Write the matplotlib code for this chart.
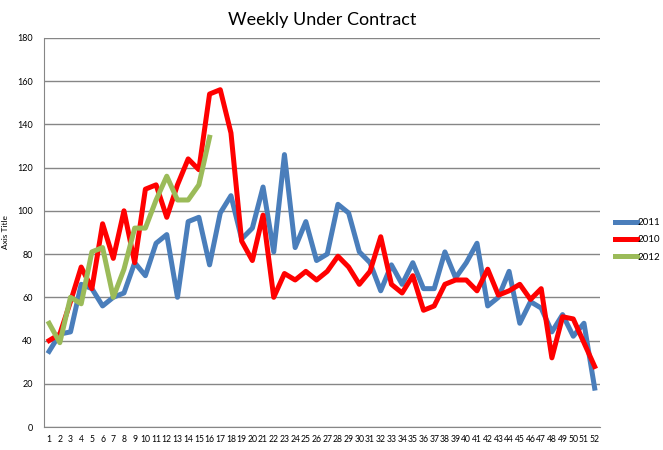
import matplotlib.pyplot as plt

weeks = list(range(1, 53))

sales_2011 = [35, 43, 44, 66, 64, 56, 60, 62, 76, 70, 85, 89, 60, 95, 97, 75, 99, 107,
              87, 92, 111, 81, 126, 83, 95, 77, 80, 103, 99, 81, 76, 63, 75, 66, 76, 64,
              64, 81, 69, 76, 85, 56, 60, 72, 48, 58, 55, 44, 52, 42, 48, 18]
sales_2010 = [40, 43, 58, 74, 64, 94, 78, 100, 76, 110, 112, 97, 112, 124, 119, 154, 156, 136,
              86, 77, 98, 60, 71, 68, 72, 68, 72, 79, 74, 66, 72, 88, 66, 62, 70, 54,
              56, 66, 68, 68, 63, 73, 61, 63, 66, 59, 64, 32, 51, 50, 39, 28]
sales_2012 = [48, 39, 60, 57, 81, 83, 60, 73, 92, 92, 105, 116, 105, 105, 112, 134]

plt.rcParams['font.family'] = ['Lato', 'DejaVu Sans']

fig = plt.figure(figsize=(6.63, 4.5), dpi=100)
ax = fig.add_axes([0.066, 0.051, 0.839, 0.865])

ax.plot(weeks, sales_2011, color='#4A7EBB', linewidth=3.6, label='2011')
ax.plot(weeks, sales_2010, color='#FF0000', linewidth=3.6, label='2010')
ax.plot(weeks[:len(sales_2012)], sales_2012, color='#9BBB59', linewidth=3.6, label='2012')

ax.set_xlim(0.5, 52.5)
ax.set_ylim(0, 180)
ax.set_yticks(range(0, 181, 20))
ax.set_xticks(weeks)
ax.set_xticklabels([str(w) for w in weeks], fontsize=6.2)
ax.tick_params(axis='y', labelsize=6.5, length=0, pad=8)
ax.tick_params(axis='x', length=0, pad=6)
ax.grid(axis='y', color='#868686', linewidth=1)
ax.set_axisbelow(True)
for side in ['top', 'right']:
    ax.spines[side].set_visible(False)
for side in ['left', 'bottom']:
    ax.spines[side].set_color('#868686')
ax.set_ylabel('Axis Title', fontsize=6, labelpad=6)

ax.set_title('Weekly Under Contract', fontsize=13, pad=9)

fig.legend(loc='center left', bbox_to_anchor=(0.915, 0.467), frameon=False,
           fontsize=7, handlelength=2.2, handletextpad=0.1, labelspacing=0.85)

fig.savefig('out.png', dpi=100)
